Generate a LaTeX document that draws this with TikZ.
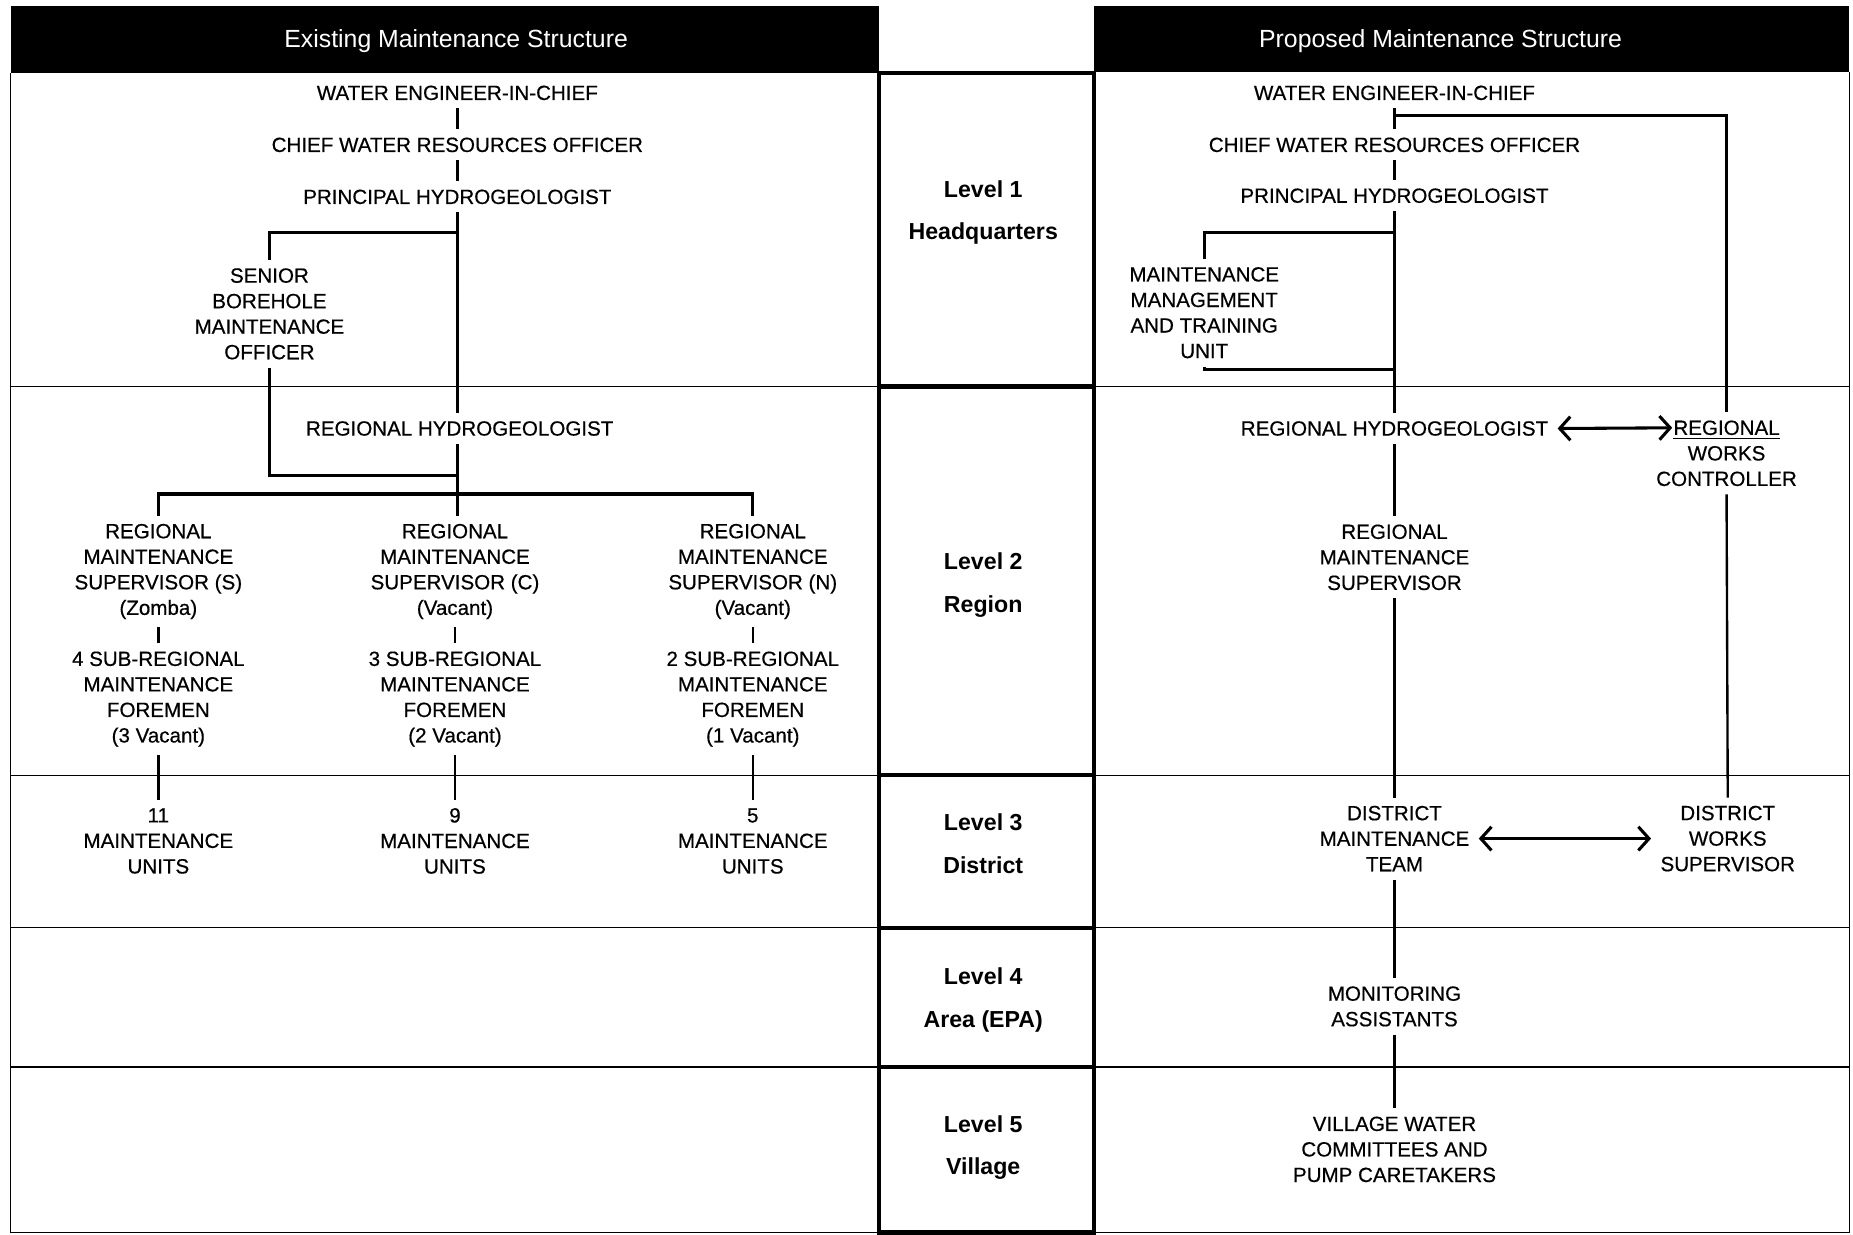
\documentclass[tikz,border=0pt]{standalone}
\usepackage{fontspec}
\setmainfont{Liberation Sans}
\newfontfamily\orgfont{Liberation Sans}[FakeBold=0.5]
\usetikzlibrary{arrows.meta}
\begin{document}
\begin{tikzpicture}[x=0.5pt,y=-0.5pt,
  txt/.style={align=center, inner xsep=4pt, inner ysep=3.5pt, outer sep=0pt, yshift=-0.8pt, font=\orgfont\fontsize{8.7}{10.8}\selectfont},
  lvl/.style={align=center, yshift=-1pt, font=\fontsize{9.8}{18}\selectfont\bfseries},
  hdr/.style={text=white, yshift=-1pt, font=\fontsize{10.5}{12}\selectfont},
  conn/.style={line width=1pt},
  bar/.style={line width=1.3pt},
  thinl/.style={line width=0.6pt},
  heavy/.style={line width=1.8pt},
  dbl/.style={line width=1.3pt, {Straight Barb[length=4.5pt,width=10pt]}-{Straight Barb[length=4.5pt,width=10pt]}}
]
\useasboundingbox (0,0) rectangle (1568,1045);
\fill[white] (0,0) rectangle (1568,1045);

% headers
\fill[black] (9,5) rectangle (744,62);
\fill[black] (926,5) rectangle (1565,61);
\node[hdr] (h1) at (386,33) {Existing Maintenance Structure};
\node[hdr] (h2) at (1219,33) {Proposed Maintenance Structure};

% panels
\draw[thinl] (9,62) -- (9,1043) -- (744,1043);
\draw[thinl] (1565,61) -- (1565,1043) -- (926,1043);
\foreach \y in {327,656,785,903} {
  \draw[thinl] (9,\y) -- (744,\y);
  \draw[thinl] (926,\y) -- (1565,\y);
}
% middle level boxes
\foreach \a/\b in {62/327,327/656,656/785,785/903,903/1043}
  \draw[heavy] (744,\a) rectangle (926,\b);

\node[lvl] (l1) at (832,178) {Level 1\\Headquarters};
\node[lvl] (l2) at (832,493) {Level 2\\Region};
\node[lvl] (l3) at (832,712) {Level 3\\District};
\node[lvl] (l4) at (832,844) {Level 4\\Area (EPA)};
\node[lvl] (l5) at (832,969) {Level 5\\Village};

% ---------------- existing structure
\node[txt] (we1) at (387,77) {WATER ENGINEER-IN-CHIEF};
\node[txt] (cw1) at (387,121) {CHIEF WATER RESOURCES OFFICER};
\node[txt] (ph1) at (387,165) {PRINCIPAL HYDROGEOLOGIST};
\node[txt] (sb) at (228,264) {SENIOR\\BOREHOLE\\MAINTENANCE\\OFFICER};
\node[txt] (rh1) at (389,361) {REGIONAL HYDROGEOLOGIST};
\node[txt] (sS) at (134,482) {REGIONAL\\MAINTENANCE\\SUPERVISOR (S)\\(Zomba)};
\node[txt] (sC) at (385,482) {REGIONAL\\MAINTENANCE\\SUPERVISOR (C)\\(Vacant)};
\node[txt] (sN) at (637,482) {REGIONAL\\MAINTENANCE\\SUPERVISOR (N)\\(Vacant)};
\node[txt] (fS) at (134,590) {4 SUB-REGIONAL\\MAINTENANCE\\FOREMEN\\(3 Vacant)};
\node[txt] (fC) at (385,590) {3 SUB-REGIONAL\\MAINTENANCE\\FOREMEN\\(2 Vacant)};
\node[txt] (fN) at (637,590) {2 SUB-REGIONAL\\MAINTENANCE\\FOREMEN\\(1 Vacant)};
\node[txt] (uS) at (134,710) {11\\MAINTENANCE\\UNITS};
\node[txt] (uC) at (385,710) {9\\MAINTENANCE\\UNITS};
\node[txt] (uN) at (637,710) {5\\MAINTENANCE\\UNITS};

\coordinate (j1) at (387,197);
\coordinate (j2) at (387,402);
\coordinate (j3) at (387,418);

\draw[conn] (we1.south) -- (cw1.north);
\draw[conn] (cw1.south) -- (ph1.north);
\draw[conn] (ph1.south) -- (ph1.south |- rh1.north);
\draw[bar] (j1) -| (sb.north);
\draw[bar] (sb.south) |- (j2);
\draw[conn] (rh1.south -| j2) -- (j2 |- sC.north);
\draw[bar] (sS.north) |- (j3) -| (sN.north);
\draw[conn] (sS.south) -- (fS.north);
\draw[conn] (sC.south) -- (fC.north);
\draw[conn] (sN.south) -- (fN.north);
\draw[conn] (fS.south) -- (uS.north);
\draw[conn] (fC.south) -- (uC.north);
\draw[conn] (fN.south) -- (uN.north);

% ---------------- proposed structure
\node[txt] (we2) at (1180,77) {WATER ENGINEER-IN-CHIEF};
\node[txt] (cw2) at (1180,121) {CHIEF WATER RESOURCES OFFICER};
\node[txt] (ph2) at (1180,164) {PRINCIPAL HYDROGEOLOGIST};
\node[txt] (mm) at (1019,263) {MAINTENANCE\\MANAGEMENT\\AND TRAINING\\UNIT};
\node[txt] (rh2) at (1180,361) {REGIONAL HYDROGEOLOGIST};
\node[txt] (rwc) at (1461,382) {\underline{REGIONAL}\\WORKS\\CONTROLLER};
\node[txt] (rms) at (1180,470) {REGIONAL\\MAINTENANCE\\SUPERVISOR};
\node[txt] (dmt) at (1180,708) {DISTRICT\\MAINTENANCE\\TEAM};
\node[txt] (dws) at (1462,708) {DISTRICT\\WORKS\\SUPERVISOR};
\node[txt] (ma) at (1180,850) {MONITORING\\ASSISTANTS};
\node[txt] (vw) at (1180,971) {VILLAGE WATER\\COMMITTEES AND\\PUMP CARETAKERS};

\coordinate (k1) at (1180,98);
\coordinate (k2) at (1180,197);
\coordinate (k3) at (1180,313);
\coordinate (a2) at (1415,362);

\draw[conn] (we2.south) -- (cw2.north);
\draw[conn] (cw2.south) -- (ph2.north);
\draw[conn] (ph2.south) -- (rh2.north);
\draw[bar] (k1) -| (rwc.north);
\draw[bar] (k2) -| (mm.north);
\draw[bar] (mm.south) |- (k3);
\draw[dbl] (rh2.east) -- (a2);
\draw[conn] (rh2.south) -- (rms.north);
\draw[conn] (rms.south) -- (dmt.north);
\draw[conn] (rwc.south) -- (dws.north);
\draw[dbl] (dmt.east) -- (dws.west);
\draw[conn] (dmt.south) -- (ma.north);
\draw[conn] (ma.south) -- (vw.north);
\end{tikzpicture}
\end{document}
